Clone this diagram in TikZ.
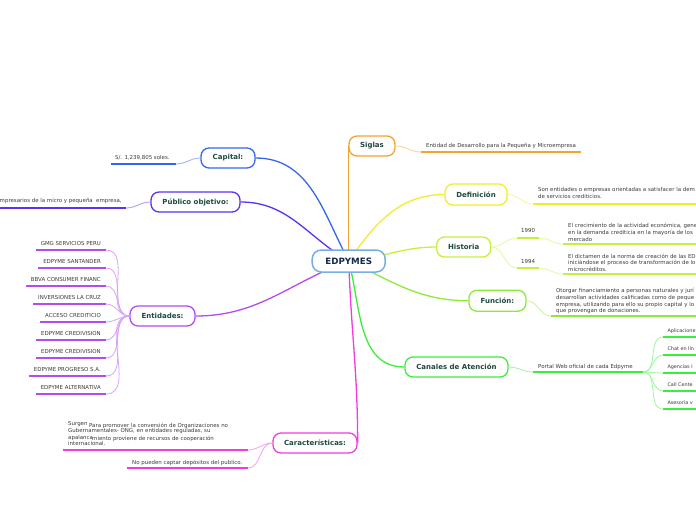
\documentclass[tikz,border=0pt]{standalone}
\usepackage{fontspec}
\setmainfont{DejaVu Sans}
\usetikzlibrary{backgrounds}
\definecolor{cOr}{HTML}{F5A430}
\definecolor{cYe}{HTML}{F2EC2E}
\definecolor{cHi}{HTML}{C6F03C}
\definecolor{cFu}{HTML}{8CEA3A}
\definecolor{cCa}{HTML}{3CEE3C}
\definecolor{cCh}{HTML}{F03CDC}
\definecolor{cEn}{HTML}{B04CF0}
\definecolor{cPu}{HTML}{5A32F0}
\definecolor{cCp}{HTML}{3466F2}
\definecolor{cEd}{HTML}{78AEE0}
\definecolor{tTop}{HTML}{1C4A3E}
\definecolor{tEd}{HTML}{16294C}
\definecolor{tLeaf}{HTML}{3A3A3A}
\tikzset{
 topic/.style={draw=#1, fill=white, rounded corners=8pt, line width=1.3pt, inner sep=0pt,
   minimum height=20pt, font=\fontsize{7}{8}\selectfont\bfseries, text=tTop},
 rootnode/.style={draw=cEd, fill=white, rounded corners=9pt, line width=1.5pt, inner sep=0pt,
   minimum height=22pt, minimum width=73pt, font=\fontsize{8.7}{10}\selectfont\bfseries, text=tEd},
 branch/.style={draw=#1, line width=1.3pt},
 twig/.style={draw=#1!50, line width=0.8pt},
 uline/.style={draw=#1, line width=2pt},
 leaf/.style={font=\fontsize{5.45}{6.7}\selectfont, text=tLeaf, inner sep=0pt, anchor=north west, align=left},
 leafr/.style={font=\fontsize{5.45}{6.7}\selectfont, text=tLeaf, inner sep=0pt, anchor=north east, align=right},
 leafs/.style={font=\fontsize{4.9}{6}\selectfont, text=tLeaf, inner sep=0pt, anchor=north west},
}
\begin{document}
\begin{tikzpicture}[x=1pt,y=-1pt]
\useasboundingbox (0,0) rectangle (696,520);
\clip (0,0) rectangle (696,520);

% ---- topic nodes
\node[rootnode] (edp) at (348.7,261) {EDPYMES};
\node[topic=cOr, minimum width=46pt] (sig) at (372,146) {Siglas};
\node[topic=cYe, minimum width=62pt, minimum height=21pt] (def) at (476,194.5) {Definición};
\node[topic=cHi, minimum width=54pt] (his) at (463.7,247) {Historia};
\node[topic=cFu, minimum width=57pt, minimum height=21pt] (fun) at (497.4,300.7) {Función:};
\node[topic=cCa, minimum width=103pt] (can) at (456.5,367) {Canales de Atención};
\node[topic=cCh, minimum width=84pt] (car) at (315,443) {Características:};
\node[topic=cEn, minimum width=65pt] (ent) at (162.5,316) {Entidades:};
\node[topic=cPu, minimum width=89pt] (pub) at (195.5,202) {Público objetivo:};
\node[topic=cCp, minimum width=54pt] (cap) at (228,158) {Capital:};

% ---- main branches
\begin{scope}[on background layer]
\draw[branch=cOr] (edp.center) -- (edp.center |- sig.west);
\draw[branch=cCp] (edp.center) to[out=118,in=0] (cap.east);
\draw[branch=cPu] (edp.center) to[out=150,in=0] (pub.east);
\draw[branch=cEn] (edp.center) to[out=200,in=0] (ent.east);
\draw[branch=cCh] (edp.center) to[out=-88,in=90] (car.east);
\draw[branch=cCa] (edp.center) to[out=-75,in=180] (can.west);
\draw[branch=cFu] (edp.center) to[out=-25,in=180] (fun.west);
\draw[branch=cHi] (edp.center) to[out=5,in=180] (his.west);
\draw[branch=cYe] (edp.center) to[out=55,in=180] (def.west);
\end{scope}

% ---- Siglas
\coordinate (sigA) at (421,152); \coordinate (sigB) at (581,152);
\node[leaf] (sigT) at (426,143.5) {Entidad de Desarrollo para la Pequeña y Microempresa};
\draw[uline=cOr] (sigA) -- (sigB);
\draw[twig=cOr] (sig.east) to[out=0,in=180] (sigA);

% ---- Definición
\coordinate (defA) at (533,204); \coordinate (defB) at (700,204);
\node[leaf] (defT) at (538,187.5) {Son entidades o empresas orientadas a satisfacer la dem\\de servicios crediticios.};
\draw[uline=cYe] (defA) -- (defB);
\draw[twig=cYe] (def.east) to[out=0,in=180] (defA);

% ---- Historia
\coordinate (h90A) at (517,238); \coordinate (h90B) at (539,238);
\coordinate (h94A) at (517,268); \coordinate (h94B) at (539,268);
\node[leaf] (h90) at (521,228.5) {1990};
\node[leaf] (h94) at (521,259.5) {1994};
\draw[uline=cHi] (h90A) -- (h90B);
\draw[uline=cHi] (h94A) -- (h94B);
\draw[twig=cHi] (his.east) to[out=0,in=180] (h90A);
\draw[twig=cHi] (his.east) to[out=0,in=180] (h94A);
\coordinate (h90C) at (563,244); \coordinate (h90D) at (700,244);
\coordinate (h94C) at (563,274); \coordinate (h94D) at (700,274);
\node[leaf] (h90T) at (568,223.3) {El crecimiento de la actividad económica, gene\\en la demanda crediticia en la mayoría de los\\mercado};
\node[leaf] (h94T) at (568,253.5) {El dictamen de la norma de creación de las ED\\iniciándose el proceso de transformación de lo\\microcréditos.};
\draw[uline=cHi] (h90C) -- (h90D);
\draw[uline=cHi] (h94C) -- (h94D);
\draw[twig=cHi] (h90B) to[out=0,in=180] (h90C);
\draw[twig=cHi] (h94B) to[out=0,in=180] (h94C);

% ---- Función
\coordinate (funA) at (551,316); \coordinate (funB) at (700,316);
\node[leaf] (funT) at (556,288.3) {Otorgar financiamiento a personas naturales y jurí\\desarrollan actividades calificadas como de peque\\empresa, utilizando para ello su propio capital y lo\\que provengan de donaciones.};
\draw[uline=cFu] (funA) -- (funB);
\draw[twig=cFu] (fun.east) to[out=0,in=180] (funA);

% ---- Canales
\coordinate (canA) at (533,372); \coordinate (canB) at (643,372);
\node[leaf] (canT) at (538,364.5) {Portal Web oficial de cada Edpyme};
\draw[uline=cCa] (canA) -- (canB);
\draw[twig=cCa] (can.east) to[out=0,in=180] (canA);
\foreach \n/\y/\t in {1/337/Aplicacione, 2/355/Chat en lín, 3/373/Agencias l, 4/391/Call Cente, 5/409/Asesoría v}{
  \coordinate (ca\n) at (663,\y);
  \coordinate (cb\n) at (700,\y);
  \node[leafs] (cT\n) at (667.3,\y-8.4) {\t};
  \draw[uline=cCa] (ca\n) -- (cb\n);
  \draw[twig=cCa] (canB) to[out=0,in=180] (ca\n);
}

% ---- Características
\coordinate (chA) at (63,450); \coordinate (chB) at (248,450);
\node[leaf] (chT) at (68,421.5) {Surgen\\Gubernamentales- ONG, en entidades reguladas, su\\apalanca\\internacional.};
\node[leaf] (chT2) at (89,422.5) {Para promover la conversión de Organizaciones no};
\node[leaf] (chT3) at (92,435.5) {miento proviene de recursos de cooperación};
\draw[uline=cCh] (chA) -- (chB);
\draw[twig=cCh] (car.west) to[out=180,in=0] (chB);
\coordinate (cdA) at (127,468); \coordinate (cdB) at (248,468);
\node[leaf] (cdT) at (132,459.5) {No pueden captar depósitos del publico.};
\draw[uline=cCh] (cdA) -- (cdB);
\draw[twig=cCh] (car.west) to[out=180,in=0] (cdB);

% ---- Entidades
\foreach \n/\y/\t in {1/250/GMG SERVICIOS PERU, 2/268/EDPYME SANTANDER, 3/286/BBVA CONSUMER FINANC,
  4/304/INVERSIONES LA CRUZ, 5/322/ACCESO CREDITICIO, 6/340/EDPYME CREDIVISION,
  7/358/EDPYME CREDIVISION, 8/376/EDPYME PROGRESO S.A., 9/394/EDPYME ALTERNATIVA}{
  \coordinate (eb\n) at (106,\y);
  \node[leafr] (eT\n) at (101,\y-8.7) {\t};
  \draw[uline=cEn, shorten <=-5pt] (eT\n.west |- eb\n) -- (eb\n);
  \draw[twig=cEn] (ent.west) to[out=180,in=0] (eb\n);
}

% ---- Público objetivo
\coordinate (puA) at (-5,208); \coordinate (puB) at (126,208);
\node[leafr] (puT) at (93,198.5) {mpresarios de la micro y pequeña};
\node[leaf] (puT2) at (96,199.5) {empresa,};
\draw[uline=cPu] (puA) -- (puB);
\draw[twig=cPu] (pub.west) to[out=180,in=0] (puB);

% ---- Capital
\coordinate (cpA) at (111,164); \coordinate (cpB) at (176,164);
\node[leaf] (cpT) at (115,155.5) {S/. 1,239,805 soles.};
\draw[uline=cCp] (cpA) -- (cpB);
\draw[twig=cCp] (cap.west) to[out=180,in=0] (cpB);
\end{tikzpicture}
\end{document}
